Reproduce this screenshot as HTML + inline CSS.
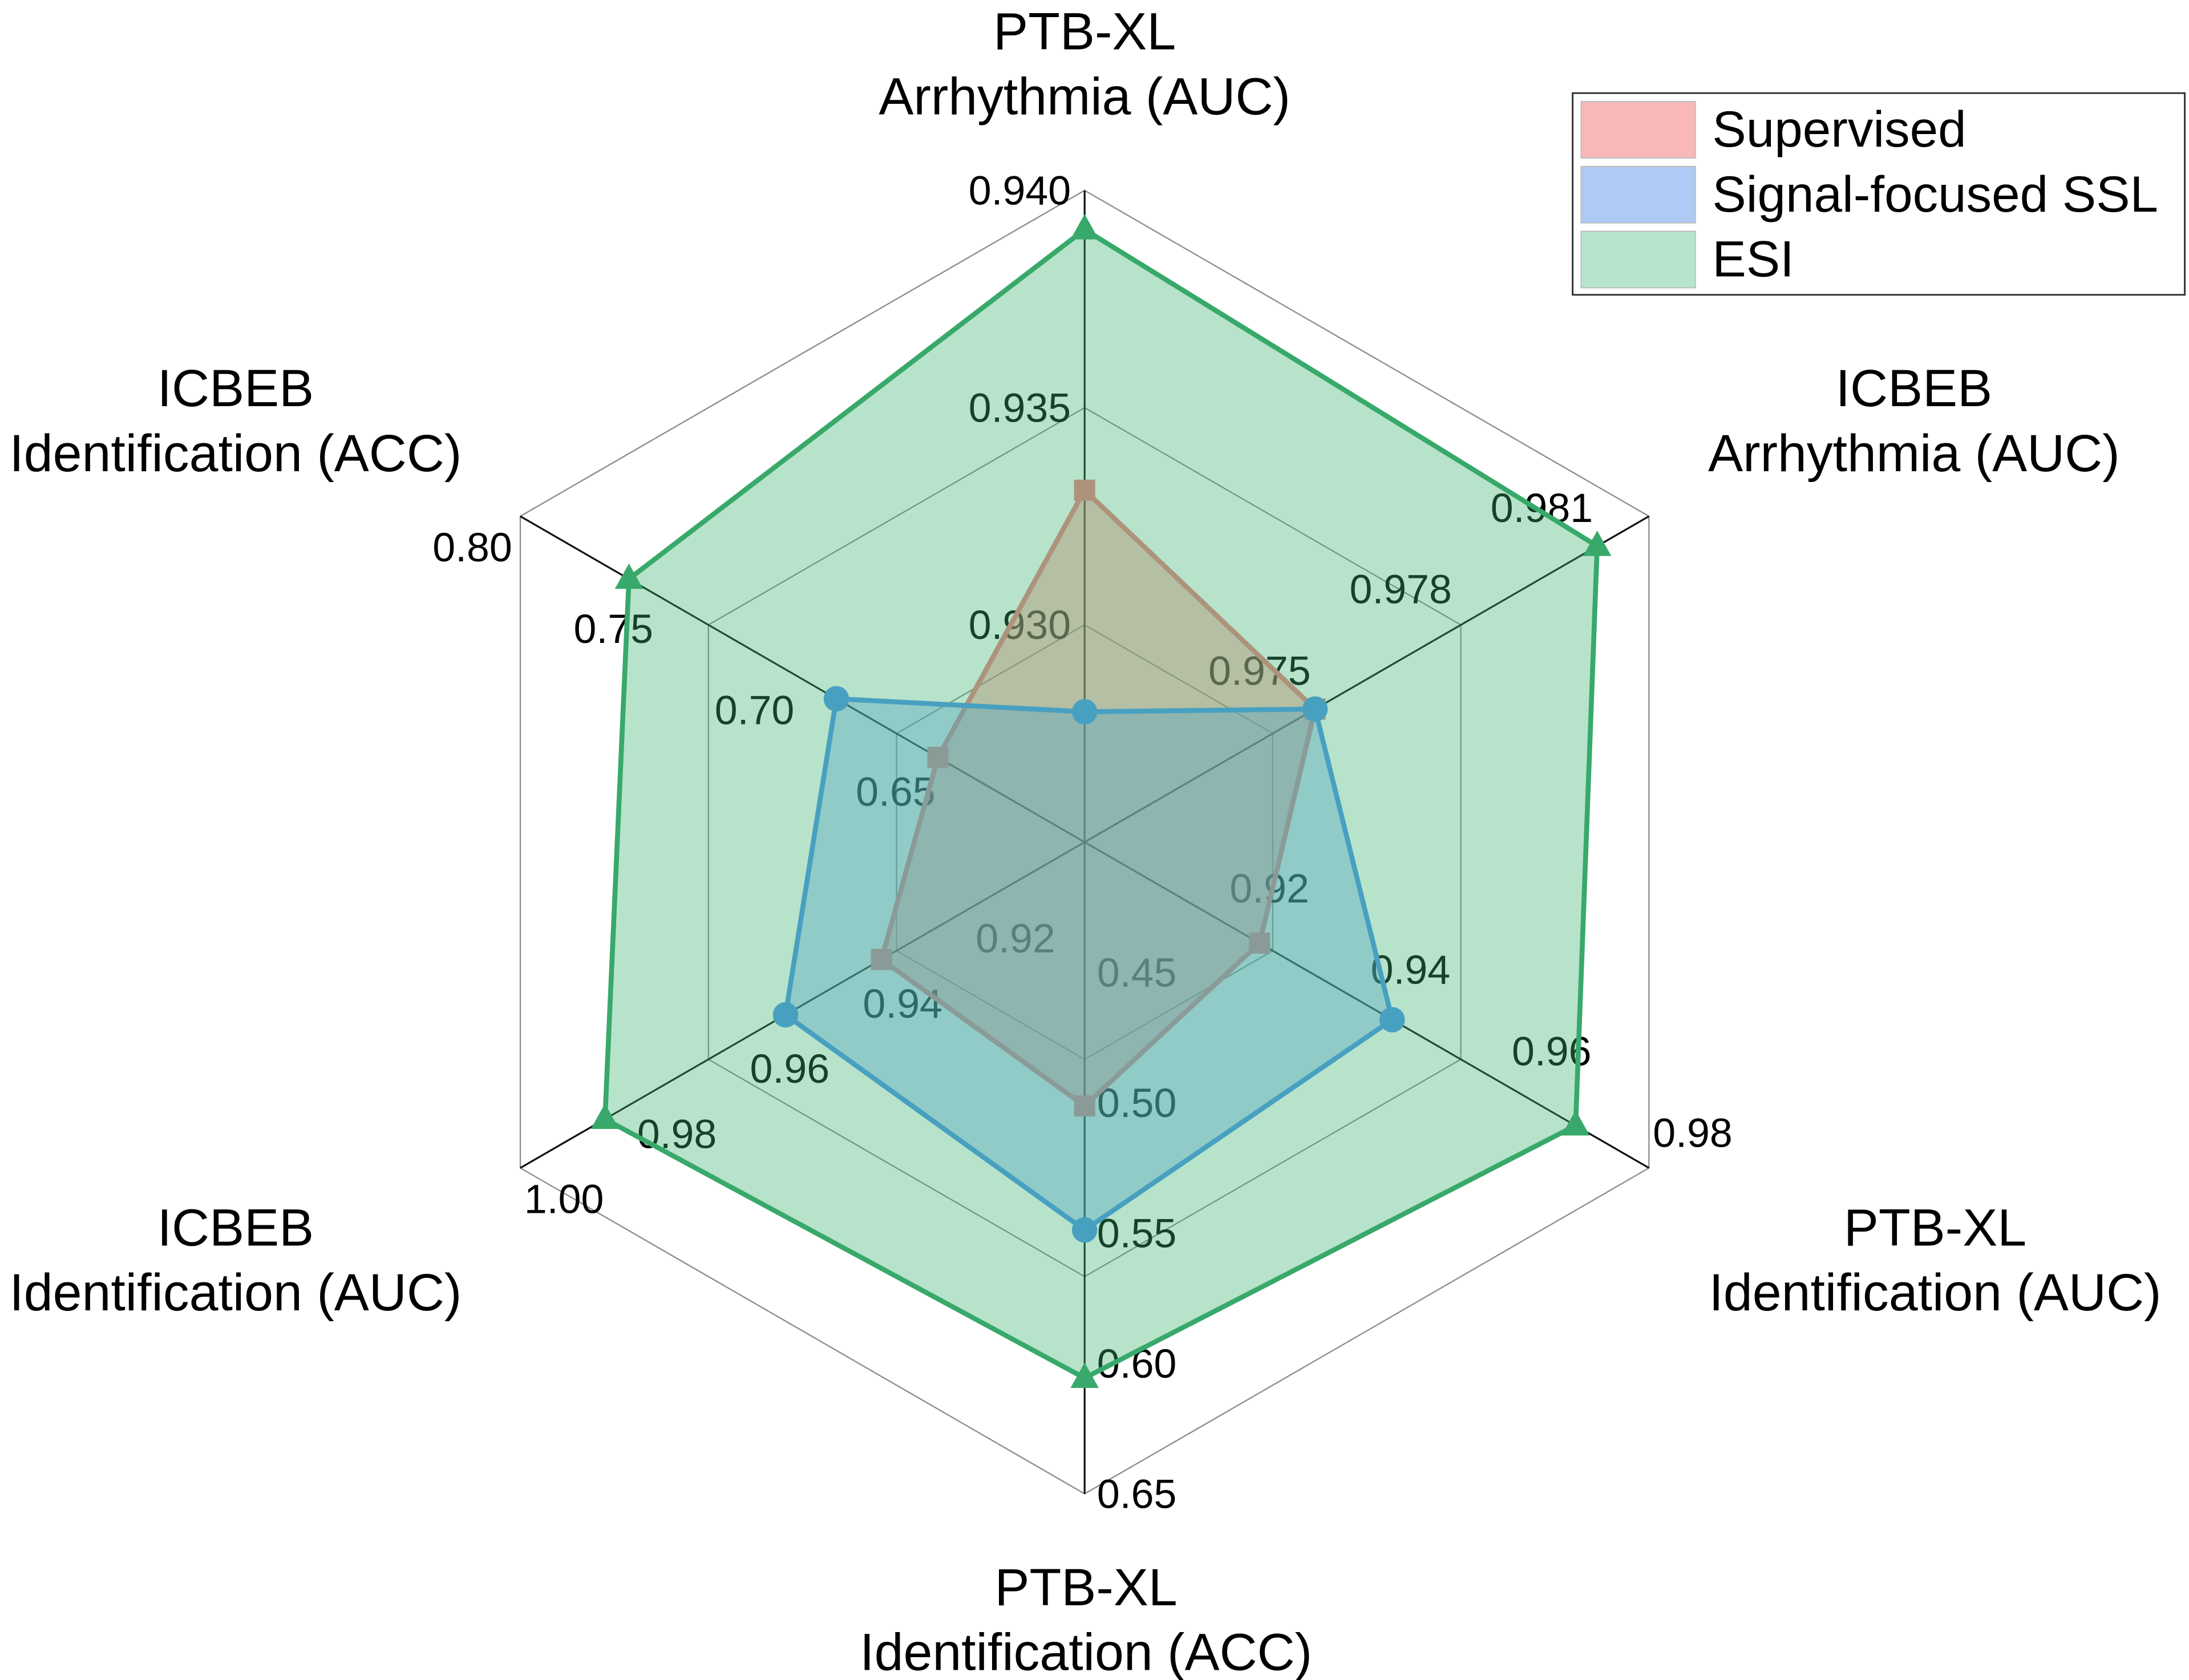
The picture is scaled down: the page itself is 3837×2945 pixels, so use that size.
<!DOCTYPE html>
<html><head><meta charset="utf-8">
<style>
html,body{margin:0;padding:0;background:#fff;}
svg{display:block;}
text{font-family:"Liberation Sans",Arial,sans-serif;}
</style></head>
<body>
<svg id="chart" width="3837" height="2945" viewBox="0 0 1552 1191" preserveAspectRatio="none" xmlns="http://www.w3.org/2000/svg">
<g id="grid"></g>
<g id="ticks"></g>
<g id="series"></g>
<g id="axlabels"></g>
<g id="legend">
  <rect x="1115" y="66" width="434" height="143" fill="#fff" stroke="#333" stroke-width="1.2"/>
  <rect x="1121" y="72" width="81" height="40" fill="#f8b8b8" stroke="#bbb" stroke-width="0.8"/>
  <text x="1214" y="104" font-size="36">Supervised</text>
  <rect x="1121" y="118" width="81" height="40" fill="#aecbf5" stroke="#bbb" stroke-width="0.8"/>
  <text x="1214" y="150" font-size="36">Signal-focused SSL</text>
  <rect x="1121" y="164" width="81" height="40" fill="#b5e6cc" stroke="#bbb" stroke-width="0.8"/>
  <text x="1214" y="196" font-size="36">ESI</text>
</g>
</svg>
<script>
// Axis definitions (clockwise from top)
const axisNames = [["PTB-XL","Arrhythmia (AUC)"],["ICBEB","Arrhythmia (AUC)"],["PTB-XL","Identification (AUC)"],["PTB-XL","Identification (ACC)"],["ICBEB","Identification (AUC)"],["ICBEB","Identification (ACC)"]];
const axisMin = [0.925, 0.969, 0.90, 0.40, 0.90, 0.60];
const axisMax = [0.940, 0.981, 0.98, 0.65, 1.00, 0.80];
const tick0 = ["0.930","0.935","0.940"];
const tick1 = ["0.975","0.978","0.981"];
const tick2 = ["0.92","0.94","0.96","0.98"];
const tick3 = ["0.45","0.50","0.55","0.60","0.65"];
const tick4 = ["0.92","0.94","0.96","0.98","1.00"];
const tick5 = ["0.65","0.70","0.75","0.80"];
const supervised = [0.9331, 0.9739, 0.9248, 0.5012, 0.936, 0.652];
const ssl        = [0.9280, 0.9739, 0.9436, 0.5488, 0.953, 0.688];
const esi        = [0.9391, 0.9799, 0.9696, 0.6056, 0.985, 0.7615];

const NS="http://www.w3.org/2000/svg";
const CX=769, CY=597, R=462;
const ticks=[tick0,tick1,tick2,tick3,tick4,tick5];
const angles=[-90,-30,30,90,150,210].map(a=>a*Math.PI/180);
function pt(i,r){return [CX+r*Math.cos(angles[i]), CY+r*Math.sin(angles[i])];}
function rad(i,v){return (v-axisMin[i])/(axisMax[i]-axisMin[i])*R;}
function mk(tag,attrs,parent){const e=document.createElementNS(NS,tag);for(const k in attrs)e.setAttribute(k,attrs[k]);parent.appendChild(e);return e;}

const grid=document.getElementById('grid');
[1/3,2/3,1].forEach((f,j)=>{
  const p=angles.map((_,i)=>pt(i,R*f).join(',')).join(' ');
  const e=mk('polygon',{points:p,fill:'none',stroke:'#888','stroke-width':0.9},grid);
  
  
});
angles.forEach((_,i)=>{
  const [x,y]=pt(i,R);
  const e=mk('line',{x1:CX,y1:CY,x2:x,y2:y,stroke:'#111','stroke-width':1.3},grid);
  
  
});

// tick labels: center offset relative to value point
const offs=[[-46,0],[-76,-6],[31,-25],[37,0],[31,22],[-34,22]];
const tg=document.getElementById('ticks');
ticks.forEach((arr,i)=>{
  arr.forEach(s=>{
    const [x,y]=pt(i,rad(i,parseFloat(s)));
    const t=mk('text',{x:x+offs[i][0],y:y+offs[i][1]+10,'font-size':29,'text-anchor':'middle',fill:'#000'},tg);
    t.textContent=s;
    
    
  });
});

const sg=document.getElementById('series');
function drawSeries(vals,name,fill,stroke,marker){
  const g=mk('g',{},sg);
  
  
  const pts=vals.map((v,i)=>pt(i,rad(i,v)));
  const poly=mk('polygon',{points:pts.map(p=>p.join(',')).join(' '),fill:fill,stroke:stroke,'stroke-width':3.5,'stroke-linejoin':'miter'},g);
  
  
  pts.forEach(([x,y])=>{
    let m;
    if(marker==='sq') m=mk('rect',{x:x-7.5,y:y-7.5,width:15,height:15,fill:stroke},g);
    else if(marker==='c') m=mk('circle',{cx:x,cy:y,r:9,fill:stroke},g);
    else m=mk('polygon',{points:`${x},${y-11} ${x-10},${y+7} ${x+10},${y+7}`,fill:stroke},g);
    
    
  });
}
drawSeries(supervised,'supervised','rgba(245,130,120,0.45)','rgb(240,128,128)','sq');
drawSeries(ssl,'ssl','rgba(100,160,240,0.40)','rgb(80,150,240)','c');
drawSeries(esi,'esi','rgba(60,180,115,0.37)','#38a96a','tri');

const lg=document.getElementById('axlabels');
const lpos=[[769,22],[1357,275],[1372,870],[770,1125],[167,870],[167,275]];
axisNames.forEach((n,i)=>{
  n.forEach((s,j)=>{
    const t=mk('text',{x:lpos[i][0],y:lpos[i][1]+13+j*46,'font-size':37,'text-anchor':'middle',fill:'#000'},lg);
    t.textContent=s;
    
    
  });
});
</script>
</body></html>
